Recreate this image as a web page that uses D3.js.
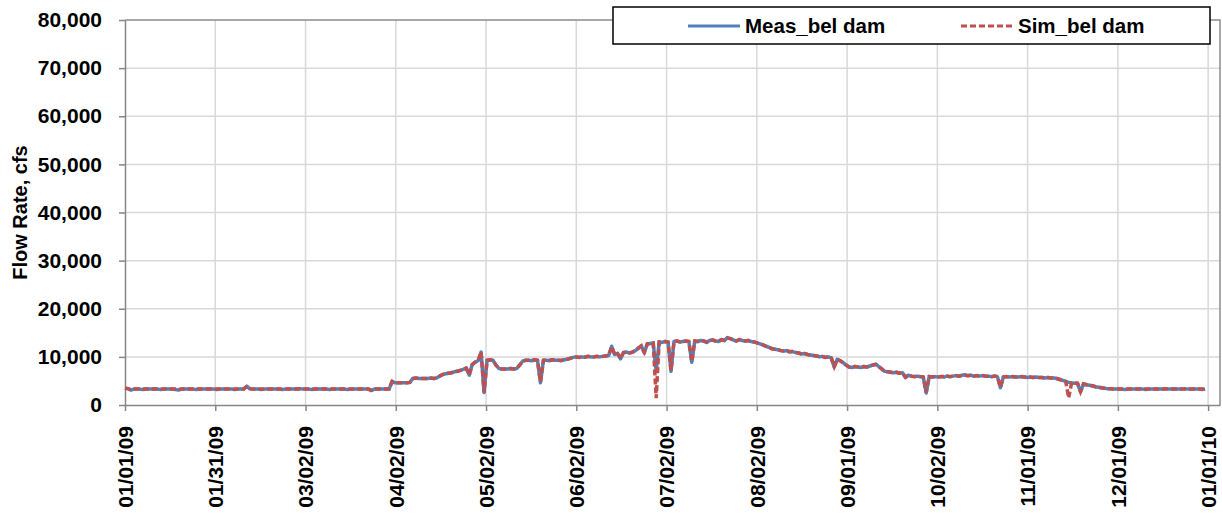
<!DOCTYPE html>
<html>
<head>
<meta charset="utf-8">
<script src="https://cdn.jsdelivr.net/npm/d3@7"></script>
<style>
  body { margin: 0; background: #fff; }
  text { font-family: "Liberation Sans", Arial, sans-serif; font-weight: bold; fill: #000; }
</style>
</head>
<body>
<svg id="chart" width="1222" height="516"></svg>
<script>
// Daily flow below the dam, 2009 (day 0 = 01/01/09)
var seriesNames = ["Meas_bel dam", "Sim_bel dam"];
var tickLabels = ["01/01/09", "01/31/09", "03/02/09", "04/02/09", "05/02/09", "06/02/09", "07/02/09",
                  "08/02/09", "09/01/09", "10/02/09", "11/01/09", "12/01/09", "01/01/10"];
var yTicks = [0, 10000, 20000, 30000, 40000, 50000, 60000, 70000, 80000];

var meas = [
  3500, 3400, 3100, 3300, 3300, 3300, 3200, 3300, 3300, 3300,
  3300, 3300, 3200, 3300, 3300, 3300, 3300, 3200, 3100, 3300,
  3300, 3300, 3300, 3300, 3200, 3300, 3300, 3300, 3300, 3300,
  3300, 3200, 3300, 3300, 3300, 3300, 3300, 3200, 3300, 3300,
  3300, 3900, 3400, 3300, 3300, 3300, 3200, 3300, 3300, 3300,
  3300, 3300, 3300, 3200, 3300, 3300, 3300, 3300, 3300, 3400,
  3300, 3300, 3300, 3200, 3300, 3300, 3300, 3300, 3300, 3200,
  3300, 3300, 3300, 3300, 3300, 3200, 3300, 3300, 3300, 3300,
  3300, 3300, 3300, 3000, 3300, 3300, 3300, 3300, 3300, 3300,
  4900, 4600, 4600, 4600, 4600, 4600, 4700, 5500, 5600, 5500,
  5500, 5500, 5500, 5600, 5500, 5600, 6000, 6300, 6500, 6600,
  6700, 6900, 7000, 7200, 7400, 7700, 6200, 8400, 8900, 9200,
  11000, 2600, 9300, 9400, 9300, 8300, 7600, 7500, 7500, 7500,
  7600, 7500, 7600, 8300, 9100, 9300, 9300, 9200, 9400, 9300,
  4600, 9300, 9300, 9200, 9400, 9300, 9300, 9200, 9400, 9500,
  9700, 9900, 10000, 9900, 10000, 9900, 10100, 10000, 10000, 10100,
  10000, 10100, 10200, 10300, 12200, 10500, 10700, 9600, 10900, 11000,
  10800, 11000, 11300, 11800, 12300, 10800, 12700, 12800, 12900, 7000,
  13100, 13000, 13200, 13100, 7000, 13200, 13300, 13100, 13200, 13300,
  13200, 8900, 13300, 13200, 13400, 13300, 13000, 13400, 13500, 13300,
  13200, 13600, 13400, 14000, 13800, 13500, 13300, 13600, 13400, 13300,
  13400, 13200, 13100, 12900, 12700, 12500, 12200, 12000, 11700, 11600,
  11500, 11300, 11200, 11300, 11000, 11100, 10900, 10800, 10600, 10700,
  10500, 10400, 10300, 10200, 10000, 10100, 9900, 10000, 9800, 7900,
  9500, 9200, 8800, 8300, 7900, 7800, 8000, 7900, 7800, 8000,
  7900, 8100, 8300, 8500, 8000, 7500, 7000, 6900, 6800, 6700,
  6800, 6600, 6700, 5700, 6200, 6000, 5900, 6000, 5900, 5800,
  2500, 5900, 5800, 5900, 5800, 5900, 5800, 6000, 5900, 6000,
  6100, 6000, 6200, 6300, 6100, 6200, 6000, 6100, 6000, 6100,
  6000, 6000, 5900, 6000, 5900, 3600, 5800, 5900, 5800, 5900,
  5800, 5800, 5900, 5800, 5700, 5800, 5700, 5800, 5700, 5700,
  5600, 5700, 5600, 5600, 5500, 5300, 5100, 4900, 4700, 4600,
  4500, 4500, 2700, 4400, 4200, 4100, 4000, 3800, 3700, 3600,
  3500, 3400, 3400, 3300, 3300, 3300, 3300, 3200, 3300, 3300,
  3300, 3300, 3300, 3300, 3200, 3300, 3300, 3300, 3300, 3300,
  3300, 3400, 3300, 3300, 3300, 3300, 3300, 3400, 3300, 3300,
  3300, 3300, 3300, 3200, 3300
];

var sim = [
  3500, 3400, 3200, 3300, 3300, 3300, 3300, 3300, 3300, 3300,
  3300, 3300, 3300, 3300, 3300, 3300, 3300, 3300, 3200, 3300,
  3300, 3300, 3300, 3300, 3300, 3300, 3300, 3300, 3300, 3300,
  3300, 3300, 3300, 3300, 3300, 3300, 3300, 3300, 3300, 3300,
  3300, 3800, 3400, 3300, 3300, 3300, 3300, 3300, 3300, 3300,
  3300, 3300, 3300, 3300, 3300, 3300, 3300, 3300, 3300, 3300,
  3300, 3300, 3300, 3300, 3300, 3300, 3300, 3300, 3300, 3300,
  3300, 3300, 3300, 3300, 3300, 3300, 3300, 3300, 3300, 3300,
  3300, 3300, 3300, 3100, 3300, 3300, 3300, 3300, 3300, 3300,
  4900, 4600, 4600, 4600, 4600, 4600, 4700, 5500, 5600, 5500,
  5500, 5500, 5500, 5600, 5500, 5600, 6000, 6300, 6500, 6600,
  6700, 6900, 7000, 7200, 7400, 7600, 6300, 8400, 8900, 9200,
  11000, 2600, 9300, 9400, 9300, 8300, 7600, 7500, 7500, 7500,
  7600, 7500, 7600, 8300, 9100, 9300, 9300, 9300, 9400, 9300,
  4800, 9300, 9300, 9300, 9400, 9300, 9300, 9300, 9400, 9500,
  9700, 9900, 10000, 9900, 10000, 10000, 10100, 10000, 10000, 10100,
  10000, 10100, 10200, 10300, 12100, 10500, 10700, 9700, 10900, 11000,
  10800, 11000, 11300, 11800, 12300, 11000, 12700, 12800, 12900, 1400,
  13100, 13000, 13200, 13100, 7200, 13200, 13300, 13100, 13200, 13300,
  13200, 9000, 13300, 13200, 13400, 13300, 13100, 13400, 13500, 13300,
  13200, 13600, 13400, 13900, 13800, 13500, 13300, 13600, 13400, 13300,
  13400, 13200, 13100, 12900, 12700, 12500, 12200, 12000, 11700, 11600,
  11500, 11300, 11200, 11300, 11100, 11100, 10900, 10800, 10600, 10700,
  10500, 10400, 10300, 10200, 10100, 10100, 9900, 10000, 9800, 8000,
  9500, 9200, 8800, 8300, 7900, 7800, 8000, 7900, 7900, 8000,
  7900, 8100, 8300, 8400, 8000, 7500, 7000, 6900, 6800, 6700,
  6800, 6600, 6700, 5800, 6200, 6000, 5900, 6000, 5900, 5800,
  2600, 5900, 5800, 5900, 5800, 5900, 5900, 6000, 5900, 6000,
  6100, 6000, 6100, 6200, 6100, 6200, 6000, 6100, 6000, 6100,
  6000, 6000, 5900, 6000, 5900, 3700, 5800, 5900, 5800, 5900,
  5800, 5800, 5900, 5800, 5800, 5800, 5700, 5800, 5700, 5700,
  5600, 5700, 5600, 5600, 5500, 5300, 5100, 4900, 1500, 4600,
  4500, 4500, 2800, 4400, 4200, 4100, 4000, 3800, 3700, 3600,
  3500, 3400, 3400, 3300, 3300, 3300, 3300, 3300, 3300, 3300,
  3300, 3300, 3300, 3300, 3300, 3300, 3300, 3300, 3300, 3300,
  3300, 3300, 3300, 3300, 3300, 3300, 3300, 3300, 3300, 3300,
  3300, 3300, 3300, 3300, 3300
];

var colors = ["#4f81bd", "#c0504d"];

var plotLeft = 125, plotRight = 1220, plotTop = 20, plotBottom = 405;
var daysPerTick = 365 / 12;

var svg = d3.select("#chart");

// axis runs a few days past 01/01/10, like the original
var x = d3.scaleLinear().domain([0, 369]).range([plotLeft, plotRight]);
var y = d3.scaleLinear().domain([0, 80000]).range([plotBottom, plotTop]);

var tickDays = tickLabels.map(function(d, i) { return i * daysPerTick; });

// gridlines
var grid = svg.append("g");
grid.selectAll(".vgrid").
    data(tickDays.slice(1)).
    enter().append("line").
    attr("x1", function(d) { return x(d); }).
    attr("x2", function(d) { return x(d); }).
    attr("y1", plotTop).
    attr("y2", plotBottom).
    attr("stroke", "#d9d9d9").
    attr("stroke-width", 1.5);
grid.selectAll(".hgrid").
    data(yTicks.slice(1, -1)).
    enter().append("line").
    attr("x1", plotLeft).
    attr("x2", plotRight).
    attr("y1", function(d) { return y(d); }).
    attr("y2", function(d) { return y(d); }).
    attr("stroke", "#d9d9d9").
    attr("stroke-width", 1.5);

// plot frame (top and right)
svg.append("path").
    attr("d", "M" + plotLeft + "," + plotTop + "H" + plotRight + "V" + plotBottom).
    attr("fill", "none").
    attr("stroke", "#8c8c8c").
    attr("stroke-width", 1.5);

// axes
var yAxis = d3.axisLeft(y).
    tickValues(yTicks).
    tickSize(6).
    tickSizeOuter(0).
    tickPadding(17).
    tickFormat(d3.format(","));
var gy = svg.append("g").
    attr("transform", "translate(" + plotLeft + ",0)").
    call(yAxis);

var xAxis = d3.axisBottom(x).
    tickValues(tickDays).
    tickSize(6).
    tickSizeOuter(0).
    tickFormat(function(d, i) { return tickLabels[i]; });
var gx = svg.append("g").
    attr("transform", "translate(0," + plotBottom + ")").
    call(xAxis);

[gx, gy].forEach(function(g) {
    g.select(".domain").attr("stroke", "#868686").attr("stroke-width", 1.5);
    g.selectAll(".tick line").attr("stroke", "#868686").attr("stroke-width", 1.5);
    g.selectAll(".tick text").
        style("font-family", "'Liberation Sans', Arial, sans-serif").
        style("font-weight", "bold").
        style("font-size", "21px").
        attr("fill", "#000");
});

gx.selectAll(".tick text").
    attr("transform", "rotate(-90)").
    attr("x", -21).
    attr("y", 0).
    attr("dy", "0.35em").
    style("text-anchor", "end");

// axis title
svg.append("text").
    attr("transform", "translate(20," + ((plotTop + plotBottom) / 2) + ") rotate(-90)").
    attr("dy", "0.35em").
    style("text-anchor", "middle").
    style("font-size", "20px").
    text("Flow Rate, cfs");

// series lines
var line = d3.line().
    x(function(d, i) { return x(i); }).
    y(function(d) { return y(d); });

svg.append("path").
    datum(meas).
    attr("d", line).
    attr("fill", "none").
    attr("stroke", colors[0]).
    attr("stroke-width", 3.5).
    attr("stroke-linejoin", "round");

svg.append("path").
    datum(sim).
    attr("d", line).
    attr("fill", "none").
    attr("stroke", colors[1]).
    attr("stroke-width", 3.5).
    attr("stroke-dasharray", "6,3");

// legend
var legend = svg.append("g");
legend.append("rect").
    attr("x", 613).
    attr("y", 7).
    attr("width", 597).
    attr("height", 37).
    attr("fill", "#fff").
    attr("stroke", "#000").
    attr("stroke-width", 1.5);

var legendX = [688, 961];
seriesNames.forEach(function(name, i) {
    legend.append("line").
        attr("x1", legendX[i]).
        attr("x2", legendX[i] + 52).
        attr("y1", 26).
        attr("y2", 26).
        attr("stroke", colors[i]).
        attr("stroke-width", 3).
        attr("stroke-dasharray", i == 1 ? "6,3" : null);
    legend.append("text").
        attr("x", legendX[i] + 57).
        attr("y", 26).
        attr("dy", "0.35em").
        style("font-size", "20.5px").
        text(name);
});
</script>
</body>
</html>
